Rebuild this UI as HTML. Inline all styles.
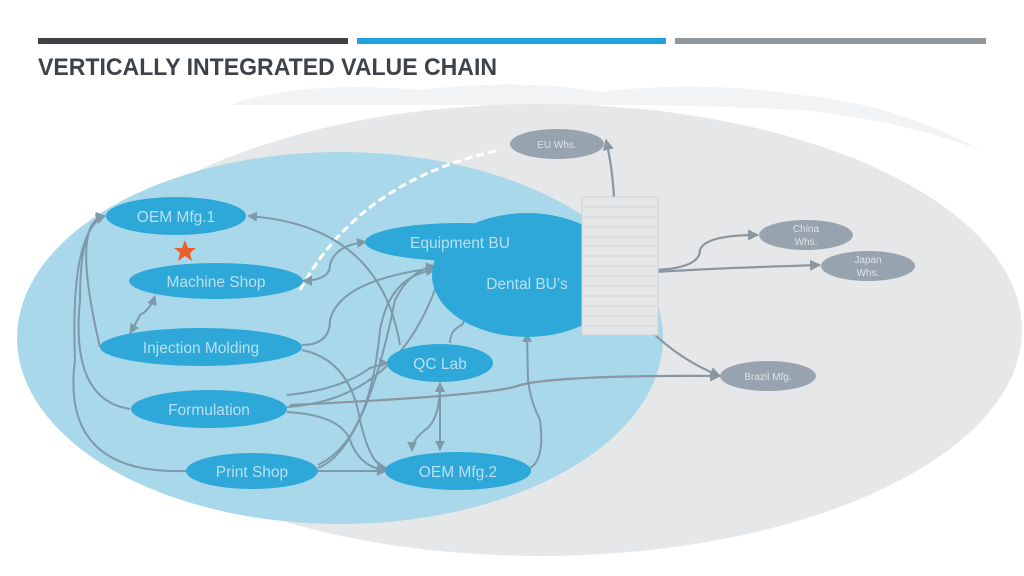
<!DOCTYPE html>
<html><head><meta charset="utf-8"><style>
html,body{margin:0;padding:0;background:#fff;}
svg{display:block;}
text{font-family:"Liberation Sans",sans-serif;}
</style></head><body>
<svg width="1024" height="576" viewBox="0 0 1024 576" xmlns="http://www.w3.org/2000/svg">
<defs>
<marker id="a" viewBox="0 0 10 10" refX="9" refY="5" markerWidth="5" markerHeight="5" orient="auto-start-reverse"><path d="M0,0L10,5L0,10z" fill="#7d9aab"/></marker>
<marker id="g" viewBox="0 0 10 10" refX="9" refY="5" markerWidth="5" markerHeight="5" orient="auto-start-reverse"><path d="M0,0L10,5L0,10z" fill="#8a96a0"/></marker>
</defs>
<rect width="1024" height="576" fill="#fff"/>
<rect x="38" y="38" width="310" height="6" fill="#3d4349"/>
<rect x="357" y="38" width="309" height="6" fill="#1ea3dc"/>
<rect x="675" y="38" width="311" height="6" fill="#8e969e"/>
<text x="38" y="75" font-size="24" font-weight="bold" fill="#3d4349" font-family="Liberation Sans Narrow, Liberation Sans, sans-serif" textLength="459" lengthAdjust="spacingAndGlyphs">VERTICALLY INTEGRATED VALUE CHAIN</text>
<!-- faint map shapes -->
<path d="M230,105 Q300,80 420,90 Q520,78 600,92 Q700,80 800,95 Q900,105 980,150 Q900,120 800,110 Q700,105 600,105z" fill="#f2f3f4"/>
<ellipse cx="540" cy="330" rx="482" ry="226" fill="#e6e7e8"/>
<ellipse cx="340" cy="338" rx="323" ry="186" fill="#a9d8ea"/>
<path d="M300,290 Q360,180 500,150" stroke="#fff" stroke-width="3" stroke-dasharray="8 4" fill="none"/>
<!-- gray connectors -->
<g stroke="#8a96a0" stroke-width="2.2" fill="none">
<path d="M614,197 Q612,165 606,140" marker-end="url(#g)"/>
<path d="M655,270 Q700,268 700,250 Q705,235 758,235" marker-end="url(#g)"/>
<path d="M655,272 Q720,268 820,265" marker-end="url(#g)"/>
<path d="M650,330 Q680,360 720,376" marker-end="url(#g)"/>
<path d="M290,405 Q500,395 520,385 Q560,375 720,376" marker-end="url(#g)"/>
</g>
<!-- blue connectors -->
<g stroke="#7d9aab" stroke-width="2" fill="none">
<path d="M248,216 Q380,225 400,345" marker-start="url(#a)"/>
<path d="M100,347 Q70,220 105,216" marker-end="url(#a)"/>
<path d="M130,409 Q70,400 80,300 Q80,220 105,216" marker-end="url(#a)"/>
<path d="M186,471 Q60,475 75,360 Q70,230 105,216" marker-end="url(#a)"/>
<path d="M155,296 Q150,310 140,315 Q135,325 130,333" marker-start="url(#a)" marker-end="url(#a)"/>
<path d="M303,281 Q330,280 330,265 Q335,245 366,242" marker-start="url(#a)" marker-end="url(#a)"/>
<path d="M302,345 Q330,345 330,320 Q340,280 435,268" marker-end="url(#a)"/>
<path d="M302,350 Q350,360 360,420 Q370,465 386,468" marker-end="url(#a)"/>
<path d="M287,395 Q340,390 370,368 Q385,363 388,363" marker-end="url(#a)"/>
<path d="M287,407 Q400,400 440,275" marker-end="url(#a)"/>
<path d="M287,412 Q340,415 350,440 Q360,468 386,470" marker-end="url(#a)"/>
<path d="M318,471 Q380,471 386,471" marker-end="url(#a)"/>
<path d="M318,465 Q370,440 380,330 Q390,275 435,270" marker-end="url(#a)"/>
<path d="M318,468 Q365,450 395,300 Q410,270 435,266" marker-end="url(#a)"/>
<path d="M440,383 L440,450" marker-start="url(#a)" marker-end="url(#a)"/>
<path d="M440,383 Q440,420 425,430 Q412,440 412,451" marker-start="url(#a)" marker-end="url(#a)"/>
<path d="M450,343 Q450,330 462,325 Q466,318 464,310" marker-end="url(#a)"/>
<path d="M530,468 Q545,460 540,420 Q530,400 528,380 L527,333" marker-end="url(#a)"/>
</g>
<!-- blue nodes -->
<g fill="#2ea8d9">
<ellipse cx="176" cy="216" rx="70" ry="19"/>
<ellipse cx="216" cy="281" rx="87" ry="18"/>
<ellipse cx="201" cy="347" rx="101" ry="19"/>
<ellipse cx="209" cy="409" rx="78" ry="19"/>
<ellipse cx="252" cy="471" rx="66" ry="18"/>
<ellipse cx="527" cy="275" rx="95" ry="62"/>
<ellipse cx="460" cy="242" rx="95" ry="19"/>
<ellipse cx="440" cy="363" rx="53" ry="19"/>
<ellipse cx="458" cy="471" rx="73" ry="19"/>
</g>
<g fill="#b8e0f1" font-size="15.5" text-anchor="middle">
<text x="176" y="222">OEM Mfg.1</text>
<text x="216" y="287">Machine Shop</text>
<text x="201" y="353">Injection Molding</text>
<text x="209" y="415">Formulation</text>
<text x="252" y="477">Print Shop</text>
<text x="460" y="248">Equipment BU</text>
<text x="527" y="289">Dental BU’s</text>
<text x="440" y="369">QC Lab</text>
<text x="458" y="477">OEM Mfg.2</text>
</g>
<polygon points="185,240 188,248 196,248 190,253 192,261 185,256 178,261 180,253 174,248 182,248" fill="#e8602a"/>
<!-- panel -->
<rect x="582" y="197" width="76" height="138" fill="#e4e6e8" stroke="#cfd3d6"/>
<g stroke="#d4d8db" stroke-width="1">
<line x1="584" y1="207" x2="656" y2="207"/><line x1="584" y1="217" x2="656" y2="217"/><line x1="584" y1="227" x2="656" y2="227"/><line x1="584" y1="237" x2="656" y2="237"/><line x1="584" y1="246" x2="656" y2="246"/><line x1="584" y1="256" x2="656" y2="256"/><line x1="584" y1="266" x2="656" y2="266"/><line x1="584" y1="276" x2="656" y2="276"/><line x1="584" y1="286" x2="656" y2="286"/><line x1="584" y1="296" x2="656" y2="296"/><line x1="584" y1="306" x2="656" y2="306"/><line x1="584" y1="316" x2="656" y2="316"/><line x1="584" y1="326" x2="656" y2="326"/>
</g>
<!-- gray nodes -->
<g fill="#97a3ae">
<ellipse cx="557" cy="144" rx="47" ry="15"/>
<ellipse cx="806" cy="235" rx="47" ry="15"/>
<ellipse cx="868" cy="266" rx="47" ry="15"/>
<ellipse cx="768" cy="376" rx="48" ry="15"/>
</g>
<g fill="#dde3e8" font-size="10" text-anchor="middle">
<text x="557" y="148">EU Whs.</text>
<text x="806" y="232">China</text><text x="806" y="245">Whs.</text>
<text x="868" y="263">Japan</text><text x="868" y="276">Whs.</text>
<text x="768" y="380">Brazil Mfg.</text>
</g>
</svg>
</body></html>
